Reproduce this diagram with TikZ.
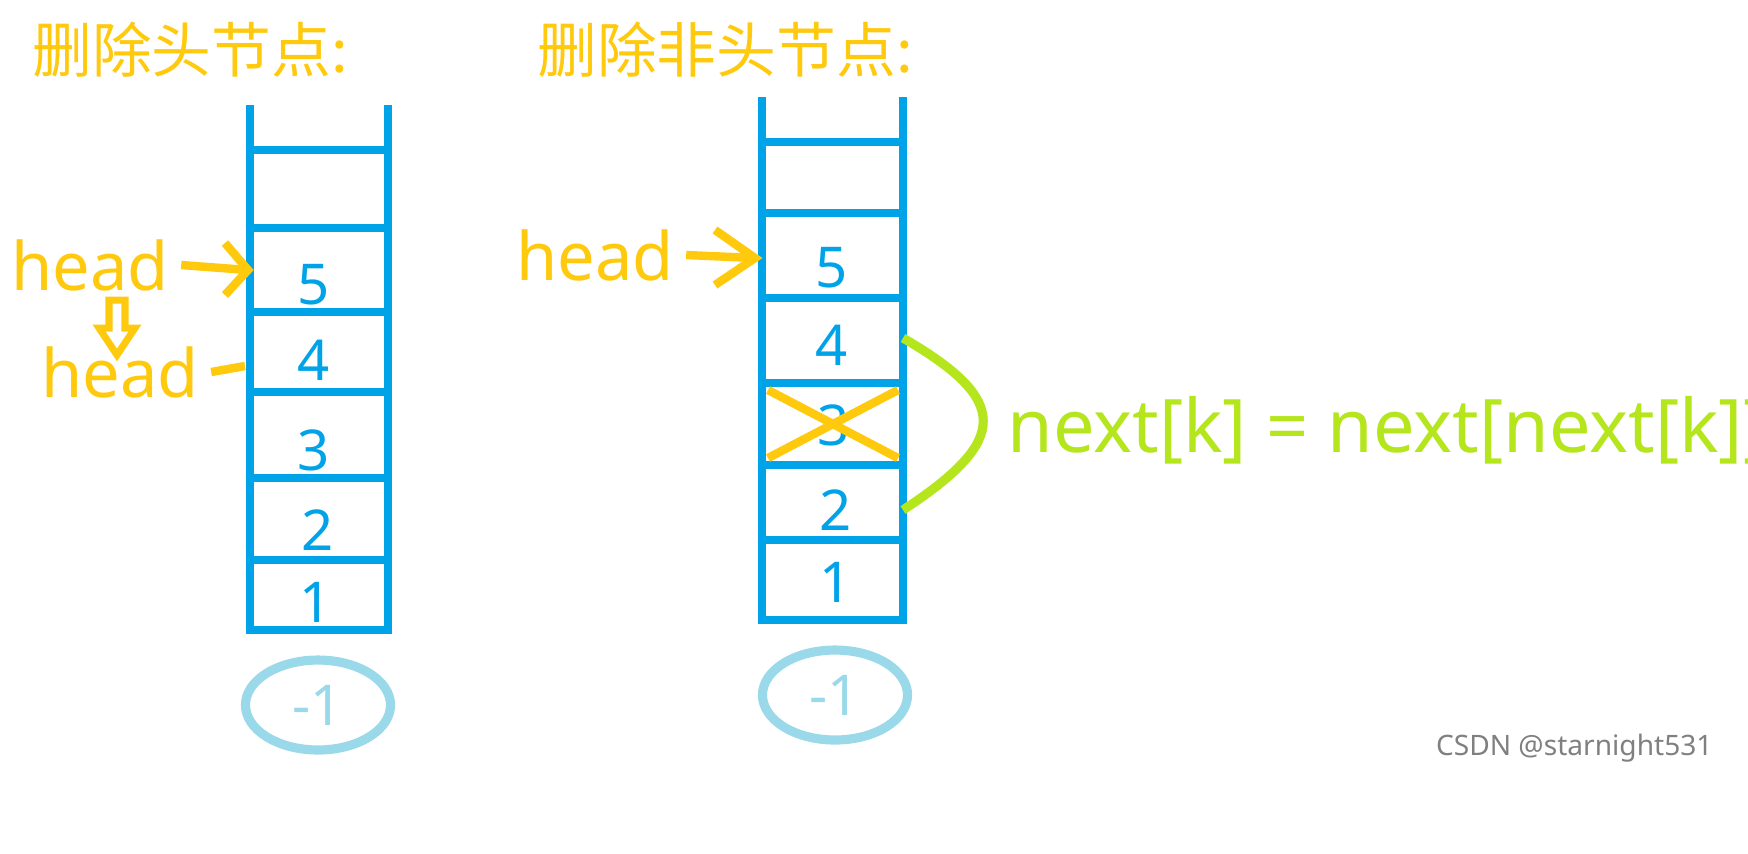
\documentclass[tikz,border=0pt]{standalone}
\usepackage{fontspec}
\setmainfont{Noto Sans}
\newfontfamily\cjk{Noto Sans CJK SC}
\usetikzlibrary{positioning,shapes.geometric}
\definecolor{stackblue}{HTML}{00A2E8}
\definecolor{headorange}{HTML}{FFC90E}
\definecolor{nextgreen}{HTML}{B5E61D}
\definecolor{nilblue}{HTML}{99D9EA}
\begin{document}
\begin{tikzpicture}[x=0.01cm,y=-0.01cm,
  wall/.style={draw=stackblue, line width=2.4pt},
  num/.style={text=stackblue, font=\fontsize{16}{16}\selectfont},
  headtag/.style={text=headorange, font=\fontsize{19}{19}\selectfont},
  title/.style={text=headorange, font=\cjk\fontsize{17}{17}\selectfont, anchor=west},
  ptr/.style={draw=headorange, line width=2.4pt},
  nil/.style={draw=nilblue, line width=2.6pt, ellipse, minimum width=1.45cm, minimum height=0.8cm, text=nilblue, font=\fontsize{16}{16}\selectfont}
]
  \useasboundingbox (0,0) rectangle (1748,853);

  \node (t1) [title] at (20,50) {删除头节点:};
  \node (t2) [title] at (525,50) {删除非头节点:};

  % left stack
  \draw [wall] (250,105) -- (250,630) -- (388,630) -- (388,105);
  \foreach \y in {150,228,312,392,478,560}
    \draw [wall] (250,\y) -- (388,\y);
  \node (l5) [num] at (314,285) {5};
  \node (l4) [num] at (314,360) {4};
  \node (l3) [num] at (314,450) {3};
  \node (l2) [num] at (318,530) {2};
  \node (l1) [num] at (316,602) {1};
  \node (lnil) [nil] at (318,705) {-1};

  \node (h1) [headtag] at (90,265) {head};
  \node (h2) [headtag] at (120,372) {head};
  \coordinate (p5) at (248,270);
  \coordinate (p4) at (245,366);
  \draw [ptr] (h1.east) -- (p5);
  \draw [ptr] (225,243) -- (p5) -- (225,295);
  \draw [ptr] (h2.east) -- (p4);
  \draw [draw=headorange, fill=white, line width=2pt]
    (109,300) -- (125,300) -- (125,328) -- (135,328) -- (117,355) -- (99,328) -- (109,328) -- cycle;

  % right stack
  \draw [wall] (762,97) -- (762,620) -- (903,620) -- (903,97);
  \foreach \y in {142,213,298,383,465,540}
    \draw [wall] (762,\y) -- (903,\y);
  \node (r5) [num] at (832,268) {5};
  \node (r4) [num] at (832,345) {4};
  \node (r3) [num] at (834,425) {3};
  \node (r2) [num] at (836,510) {2};
  \node (r1) [num] at (836,582) {1};
  \node (rnil) [nil] at (835,695) {-1};

  \node (h3) [headtag] at (595,255) {head};
  \coordinate (q5) at (755,258);
  \draw [ptr] (h3.east) -- (q5);
  \draw [ptr] (715,230) -- (q5) -- (715,285);

  \draw [ptr] (768,390) -- (898,458);
  \draw [ptr] (768,458) -- (898,390);

  \coordinate (g4) at (903,338);
  \coordinate (g2) at (903,510);
  \draw [draw=nextgreen, line width=2.6pt] (g4) .. controls (1010,400) and (1010,440) .. (g2);
  \node (nx) [text=nextgreen, anchor=west, font=\fontsize{21}{21}\selectfont] at (995,430) {next[k] = next[next[k]];};

  \node (wm) [text=gray, anchor=east, font=\fontsize{8}{8}\selectfont] at (1725,748) {CSDN @starnight531};
\end{tikzpicture}
\end{document}
